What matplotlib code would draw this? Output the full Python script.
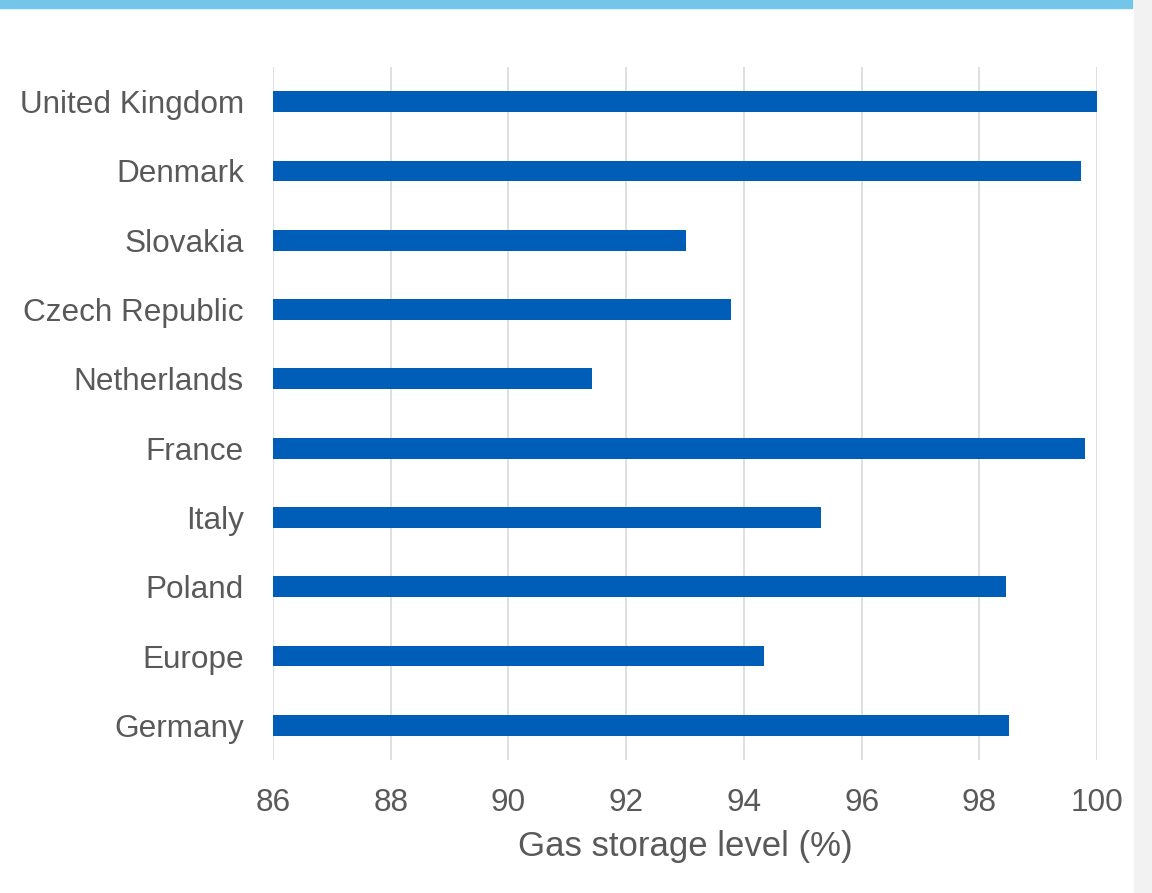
import matplotlib.pyplot as plt
from matplotlib.patches import Rectangle

countries = ['Germany', 'Europe', 'Poland', 'Italy', 'France',
             'Netherlands', 'Czech Republic', 'Slovakia', 'Denmark', 'United Kingdom']
levels = [98.50, 94.34, 98.45, 95.31, 99.80, 91.42, 93.78, 93.02, 99.73, 100.0]
ticks = [86, 88, 90, 92, 94, 96, 98, 100]

def main():
    plt.rcParams['font.family'] = ['Liberation Sans', 'DejaVu Sans']
    fig = plt.figure(figsize=(11.52, 8.93), dpi=100)

    # light grey strip on the right and blue band on top
    fig.patches.append(Rectangle((1134 / 1152, 0), 1 - 1134 / 1152, 1,
                                 transform=fig.transFigure, color='#f2f2f2', zorder=0))
    fig.patches.append(Rectangle((0, 1 - 8 / 893), 1132 / 1152, 8 / 893,
                                 transform=fig.transFigure, color='#73c6ea', zorder=1))

    ax = fig.add_axes([273 / 1152, 133 / 893, 824 / 1152, 693 / 893])
    ax.barh(range(len(countries)), [v - 86 for v in levels], left=86,
            height=0.3, color='#005eb8', zorder=3)

    ax.set_xlim(86, 100)
    ax.set_ylim(-0.5, len(countries) - 0.5)
    ax.set_xticks(ticks)
    ax.set_yticks(range(len(countries)))
    ax.set_yticklabels(countries)
    ax.grid(axis='x', color='#d9d9d9', linewidth=1.2, zorder=0)
    for s in ax.spines.values():
        s.set_visible(False)
    ax.tick_params(axis='both', length=0, labelsize=22.7, labelcolor='#595959')
    ax.tick_params(axis='y', pad=21)
    ax.tick_params(axis='x', pad=20)
    ax.set_xlabel('Gas storage level (%)', fontsize=25, color='#595959', labelpad=9)

    fig.savefig('out.png', dpi=100)

if __name__ == '__main__':
    main()
